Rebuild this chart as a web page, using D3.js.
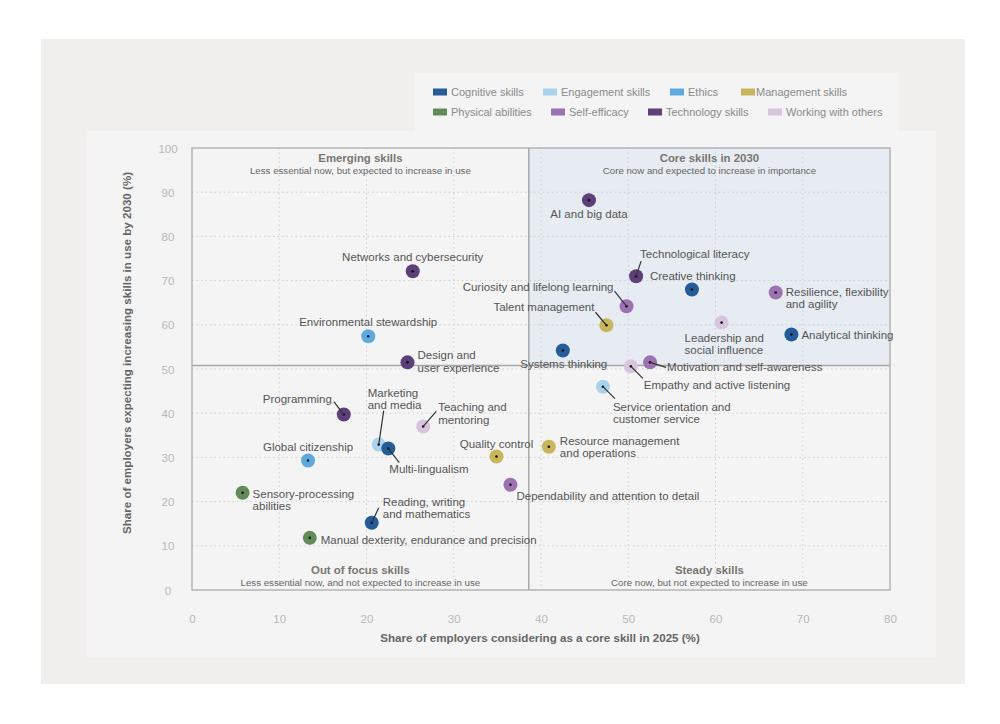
<!DOCTYPE html>
<html>
<head>
<meta charset="utf-8">
<script src="https://cdn.jsdelivr.net/npm/d3@7"></script>
<style>
  body { margin: 0; background: #fff; font-family: "Liberation Sans", Arial, sans-serif; }
  svg { display: block; }
</style>
</head>
<body>
<div id="chart"></div>
<script>
// skill groups, in legend order
const groups = ['Cognitive skills', 'Engagement skills', 'Ethics', 'Management skills',
    'Physical abilities', 'Self-efficacy', 'Technology skills', 'Working with others'];
const groupColors = ['#245c9a', '#a9d2ee', '#5eaae0', '#c8b55c',
    '#618c58', '#9c72b3', '#5d3f7a', '#d7c5de'];

// name, group index, core in 2025 (%), increasing by 2030 (%)
const skillNames = [
    'AI and big data', 'Technological literacy', 'Creative thinking', 'Resilience, flexibility and agility',
    'Curiosity and lifelong learning', 'Talent management', 'Leadership and social influence', 'Analytical thinking',
    'Systems thinking', 'Motivation and self-awareness', 'Empathy and active listening', 'Service orientation and customer service',
    'Networks and cybersecurity', 'Environmental stewardship', 'Design and user experience', 'Programming',
    'Marketing and media', 'Multi-lingualism', 'Teaching and mentoring', 'Global citizenship',
    'Quality control', 'Resource management and operations', 'Dependability and attention to detail',
    'Sensory-processing abilities', 'Reading, writing and mathematics', 'Manual dexterity, endurance and precision'
];
const skillGroup = [6, 6, 0, 5, 5, 3, 7, 0, 0, 5, 7, 1, 6, 2, 6, 6, 1, 0, 7, 2, 3, 3, 5, 4, 0, 4];
const coreShare2025 = [45.5, 50.9, 57.3, 66.9, 49.8, 47.5, 60.7, 68.7, 42.5, 52.5, 50.3, 47.1,
    25.3, 20.2, 24.7, 17.4, 21.4, 22.5, 26.5, 13.3, 34.9, 40.9, 36.5, 5.8, 20.6, 13.5];
const increasing2030 = [88.2, 71.0, 68.0, 67.3, 64.2, 59.9, 60.5, 57.8, 54.2, 51.5, 50.6, 46.0,
    72.1, 57.4, 51.5, 39.7, 32.9, 32.0, 37.0, 29.3, 30.2, 32.4, 23.8, 22.0, 15.2, 11.8];

const xTicks = [0, 10, 20, 30, 40, 50, 60, 70, 80];
const yTicks = [0, 10, 20, 30, 40, 50, 60, 70, 80, 90, 100];
const splitX = 38.6;
const splitY = 50.8;

const quadrants = [
    { title: 'Emerging skills', sub: 'Less essential now, but expected to increase in use', qx: 0, qy: 1 },
    { title: 'Core skills in 2030', sub: 'Core now and expected to increase in importance', qx: 1, qy: 1 },
    { title: 'Out of focus skills', sub: 'Less essential now, and not expected to increase in use', qx: 0, qy: 0 },
    { title: 'Steady skills', sub: 'Core now, but not expected to increase in use', qx: 1, qy: 0 }
];

// label placement relative to the dot: text offset, anchor, optional leader end
const labelLayout = {
    'AI and big data': { dx: 0, dy: 18, a: 'middle', lines: ['AI and big data'] },
    'Technological literacy': { dx: 4, dy: -18, a: 'start', lines: ['Technological literacy'], lead: [5, -15] },
    'Creative thinking': { dx: -42, dy: -9, a: 'start', lines: ['Creative thinking'] },
    'Resilience, flexibility and agility': { dx: 10, dy: 3, a: 'start', lines: ['Resilience, flexibility', 'and agility'] },
    'Curiosity and lifelong learning': { dx: -13, dy: -15, a: 'end', lines: ['Curiosity and lifelong learning'], lead: [-12, -15] },
    'Talent management': { dx: -12, dy: -14, a: 'end', lines: ['Talent management'], lead: [-11, -13] },
    'Leadership and social influence': { dx: -37, dy: 19, a: 'start', lines: ['Leadership and', 'social influence'] },
    'Analytical thinking': { dx: 10, dy: 4, a: 'start', lines: ['Analytical thinking'] },
    'Systems thinking': { dx: 1, dy: 18, a: 'middle', lines: ['Systems thinking'] },
    'Motivation and self-awareness': { dx: 17, dy: 9, a: 'start', lines: ['Motivation and self-awareness'], lead: [16, 5] },
    'Empathy and active listening': { dx: 13, dy: 23, a: 'start', lines: ['Empathy and active listening'], lead: [12, 12] },
    'Service orientation and customer service': { dx: 10, dy: 24, a: 'start', lines: ['Service orientation and', 'customer service'], lead: [12, 12] },
    'Networks and cybersecurity': { dx: 0, dy: -10, a: 'middle', lines: ['Networks and cybersecurity'] },
    'Environmental stewardship': { dx: 0, dy: -10, a: 'middle', lines: ['Environmental stewardship'] },
    'Design and user experience': { dx: 10, dy: -3, a: 'start', lines: ['Design and', 'user experience'] },
    'Programming': { dx: -12, dy: -12, a: 'end', lines: ['Programming'], lead: [-10, -13] },
    'Marketing and media': { dx: -11, dy: -48, a: 'start', lines: ['Marketing', 'and media'], lead: [5, -34] },
    'Multi-lingualism': { dx: 1, dy: 24, a: 'start', lines: ['Multi-lingualism'], lead: [11, 14] },
    'Teaching and mentoring': { dx: 15, dy: -15, a: 'start', lines: ['Teaching and', 'mentoring'], lead: [13, -15] },
    'Global citizenship': { dx: 0, dy: -9, a: 'middle', lines: ['Global citizenship'] },
    'Quality control': { dx: 0, dy: -9, a: 'middle', lines: ['Quality control'] },
    'Resource management and operations': { dx: 11, dy: -2, a: 'start', lines: ['Resource management', 'and operations'] },
    'Dependability and attention to detail': { dx: 6, dy: 15, a: 'start', lines: ['Dependability and attention to detail'] },
    'Sensory-processing abilities': { dx: 10, dy: 5, a: 'start', lines: ['Sensory-processing', 'abilities'] },
    'Reading, writing and mathematics': { dx: 11, dy: -17, a: 'start', lines: ['Reading, writing', 'and mathematics'], lead: [7, -15] },
    'Manual dexterity, endurance and precision': { dx: 11, dy: 6, a: 'start', lines: ['Manual dexterity, endurance and precision'] }
};

const W = 1000, H = 724;
const svg = d3.select('#chart').append('svg').attr('width', W).attr('height', H);

// panels
svg.append('rect').attr('x', 41).attr('y', 39).attr('width', 924).attr('height', 645).attr('fill', '#f0efee');
svg.append('rect').attr('x', 87).attr('y', 131).attr('width', 849).attr('height', 527).attr('fill', '#f4f4f4');
svg.append('rect').attr('x', 415).attr('y', 73).attr('width', 484).attr('height', 58).attr('fill', '#f4f4f4');

const plot = { left: 192, right: 890, top: 148, bottom: 590 };
const x = d3.scaleLinear().domain([0, 80]).range([plot.left, plot.right]);
const y = d3.scaleLinear().domain([0, 100]).range([plot.bottom, plot.top]);

// shaded core quadrant
svg.append('rect')
    .attr('x', x(splitX)).attr('y', y(100))
    .attr('width', x(80) - x(splitX)).attr('height', y(splitY) - y(100))
    .attr('fill', '#e6ecf2');

// dotted grid
const grid = svg.append('g').attr('stroke', '#cfcfcf').attr('stroke-width', 1).attr('stroke-dasharray', '1.5,3');
grid.selectAll('.gx').data(xTicks.slice(1, -1)).join('line')
    .attr('x1', d => x(d)).attr('x2', d => x(d)).attr('y1', y(100)).attr('y2', y(0));
grid.selectAll('.gy').data(yTicks.slice(1, -1)).join('line')
    .attr('y1', d => y(d)).attr('y2', d => y(d)).attr('x1', x(0)).attr('x2', x(80));

// frame and quadrant split
svg.append('rect').attr('x', x(0)).attr('y', y(100))
    .attr('width', x(80) - x(0)).attr('height', y(0) - y(100))
    .attr('fill', 'none').attr('stroke', '#b4b4b4').attr('stroke-width', 1.5);
svg.append('line').attr('x1', x(splitX)).attr('x2', x(splitX)).attr('y1', y(100)).attr('y2', y(0))
    .attr('stroke', '#a8a8a8').attr('stroke-width', 1.5);
svg.append('line').attr('x1', x(0)).attr('x2', x(80)).attr('y1', y(splitY)).attr('y2', y(splitY))
    .attr('stroke', '#a8a8a8').attr('stroke-width', 1.5);

// axes: labels only
const xAxis = svg.append('g').attr('transform', 'translate(0,' + (plot.bottom + 25) + ')')
    .call(d3.axisBottom(x).tickValues(xTicks).tickSize(0).tickPadding(0));
xAxis.select('.domain').remove();
xAxis.selectAll('text').attr('fill', '#b8b8b8').attr('font-size', 11.5).attr('font-family', 'Liberation Sans, Arial');

const yAxis = svg.append('g').attr('transform', 'translate(' + (plot.left - 24) + ',0)')
    .call(d3.axisLeft(y).tickValues(yTicks).tickSize(0).tickPadding(0));
yAxis.select('.domain').remove();
yAxis.selectAll('text').attr('fill', '#b8b8b8').attr('font-size', 11.5).attr('font-family', 'Liberation Sans, Arial')
    .attr('text-anchor', 'middle').attr('dy', '0.35em');

svg.append('text').attr('x', 540).attr('y', 642)
    .attr('text-anchor', 'middle').attr('font-size', 11.6).attr('font-weight', 'bold').attr('fill', '#666')
    .text('Share of employers considering as a core skill in 2025 (%)');
svg.append('text').attr('transform', 'translate(131,' + ((plot.top + plot.bottom) / 2 - 16) + ') rotate(-90)')
    .attr('text-anchor', 'middle').attr('font-size', 11.6).attr('font-weight', 'bold').attr('fill', '#666')
    .text('Share of employers expecting increasing skills in use by 2030 (%)');

// quadrant titles
const qCenters = [(x(0) + x(splitX)) / 2, (x(splitX) + x(80)) / 2];
quadrants.forEach(q => {
    const cx = qCenters[q.qx];
    const ty = q.qy === 1 ? plot.top + 14 : plot.bottom - 16;
    svg.append('text').attr('x', cx).attr('y', ty).attr('text-anchor', 'middle')
        .attr('font-size', 11.4).attr('font-weight', 'bold').attr('fill', '#7a7670').text(q.title);
    svg.append('text').attr('x', cx).attr('y', ty + 12).attr('text-anchor', 'middle')
        .attr('font-size', 9.7).attr('fill', '#666').text(q.sub);
});

// points
const skills = skillNames.map((n, i) => ({
    name: n, group: skillGroup[i], cx: x(coreShare2025[i]), cy: y(increasing2030[i]), lay: labelLayout[n]
}));

const dots = svg.append('g').selectAll('g').data(skills).join('g')
    .attr('transform', d => 'translate(' + d.cx + ',' + d.cy + ')');
dots.append('circle').attr('r', 7).attr('fill', d => groupColors[d.group]);
dots.append('circle').attr('r', 1.3).attr('fill', '#111');

// leader lines start at the dot centre
svg.append('g').selectAll('line').data(skills.filter(d => d.lay.lead)).join('line')
    .attr('x1', d => d.cx).attr('y1', d => d.cy)
    .attr('x2', d => d.cx + d.lay.lead[0]).attr('y2', d => d.cy + d.lay.lead[1])
    .attr('stroke', '#333').attr('stroke-width', 1.2);

const labels = svg.append('g').attr('font-size', 11.5).attr('fill', '#555');
labels.selectAll('text').data(skills).join('text')
    .attr('x', d => d.cx + d.lay.dx).attr('y', d => d.cy + d.lay.dy)
    .attr('text-anchor', d => d.lay.a)
    .each(function(d) {
        d3.select(this).selectAll('tspan').data(d.lay.lines).join('tspan')
            .attr('x', d.cx + d.lay.dx).attr('dy', (t, i) => i === 0 ? 0 : 12.5).text(t => t);
    });

// legend
const legendPos = [[433, 92], [543, 92], [670, 92], [741, 92], [433, 112], [551, 112], [648, 112], [768, 112]];
const legend = svg.append('g').selectAll('g').data(groups).join('g')
    .attr('transform', (d, i) => 'translate(' + legendPos[i][0] + ',' + legendPos[i][1] + ')');
legend.append('rect').attr('x', 0).attr('y', -3.5).attr('width', 14).attr('height', 7)
    .attr('fill', (d, i) => groupColors[i]);
legend.append('text').attr('x', (d, i) => i === 3 ? 15 : 18).attr('y', 4)
    .attr('font-size', 11).attr('fill', '#8a8a8a').text(d => d);
</script>
</body>
</html>
